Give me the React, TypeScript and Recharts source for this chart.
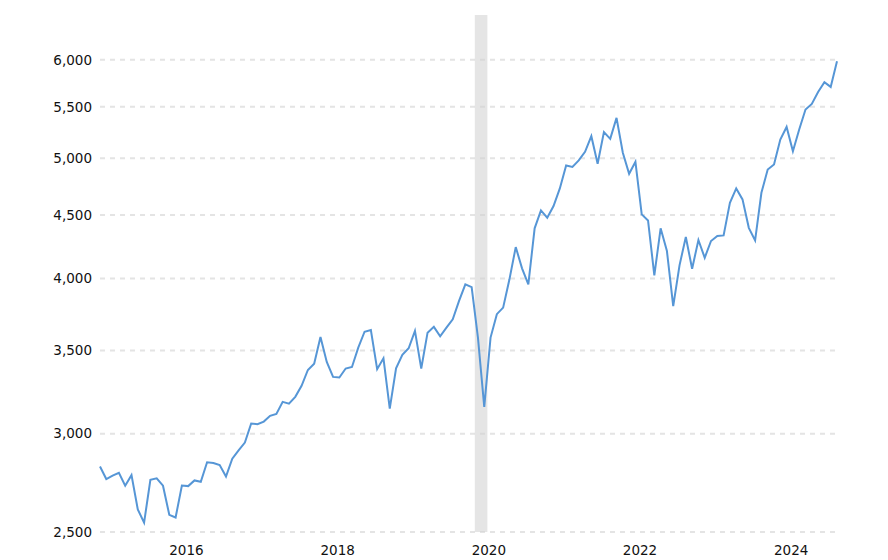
import { CartesianGrid, Line, LineChart, ReferenceArea, XAxis, YAxis } from "recharts";

// monthly closes, Feb 2015 .. Nov 2024
const startYear = 2015;
const startMonth = 2;
const closes = [
  2823, 2758, 2775, 2790, 2724, 2778, 2607, 2544, 2754, 2762, 2724,
  2581, 2568, 2725, 2722, 2751, 2744, 2845, 2841, 2830, 2771, 2864, 2909, 2951,
  3057, 3053, 3068, 3101, 3112, 3182, 3172, 3212, 3278, 3376, 3416, 3589,
  3427, 3333, 3329, 3385, 3395, 3519, 3624, 3635, 3381, 3450, 3143, 3387,
  3472, 3515, 3630, 3385, 3618, 3657, 3594, 3652, 3709, 3837, 3957, 3937,
  3585, 3153, 3585, 3744, 3790, 3994, 4240, 4076, 3957, 4390, 4538, 4477,
  4575, 4727, 4933, 4920, 4979, 5059, 5208, 4948, 5247, 5182, 5388, 5050,
  4857, 4966, 4505, 4455, 4024, 4390, 4209, 3801, 4099, 4320, 4073, 4296,
  4157, 4288, 4328, 4333, 4603, 4727, 4632, 4394, 4293, 4689, 4896, 4942,
  5176, 5298, 5065, 5273, 5472, 5529, 5653, 5756, 5706, 5984,
];

const yTicks = [2500, 3000, 3500, 4000, 4500, 5000, 5500, 6000];
const yearLabels = [2016, 2018, 2020, 2022, 2024];
const recession = { start: [2020, 2], end: [2020, 4] };

const monthIndex = (y: number, m: number) => (y - startYear) * 12 + (m - startMonth);

const data = closes.map((v, i) => ({ m: i, value: v }));
const xTicks = yearLabels.map((y) => monthIndex(y, 1));

const labelFont = { fontFamily: "'DejaVu Sans', Verdana, sans-serif", fontSize: 13.5, fill: "#111" };

function YearTick(props: any) {
  const { x, y, payload } = props;
  return (
    <text x={x} y={y} dy={15} textAnchor="start" {...labelFont}>
      {startYear + Math.floor((payload.value + startMonth - 1) / 12)}
    </text>
  );
}

export default function App() {
  return (
    <div style={{ position: "absolute", left: 0, top: 0, width: 888, height: 560, background: "#fff" }}>
      <LineChart width={888} height={560} data={data} margin={{ top: 15, right: 51, bottom: 0, left: 0 }}>
        <ReferenceArea
          x1={monthIndex(recession.start[0], recession.start[1]) - 0.5}
          x2={monthIndex(recession.end[0], recession.end[1]) - 0.5}
          fill="#d0d0d0"
          fillOpacity={0.55}
          stroke="none"
          ifOverflow="visible"
        />
        <CartesianGrid
          vertical={false}
          horizontalValues={yTicks}
          stroke="#e4e4e4"
          strokeWidth={2}
          strokeDasharray="5 5"
        />
        <XAxis
          type="number"
          dataKey="m"
          domain={["dataMin", "dataMax"]}
          ticks={xTicks}
          tick={<YearTick />}
          axisLine={false}
          tickLine={false}
          height={28}
          interval={0}
        />
        <YAxis
          scale="log"
          domain={[2500, 6520]}
          ticks={yTicks}
          allowDataOverflow
          width={100}
          axisLine={false}
          tickLine={false}
          interval={0}
          tick={labelFont}
          tickFormatter={(v: number) => v.toLocaleString("en-US")}
        />
        <Line
          type="linear"
          dataKey="value"
          stroke="#5696d6"
          strokeWidth={2}
          dot={false}
          isAnimationActive={false}
        />
      </LineChart>
    </div>
  );
}
